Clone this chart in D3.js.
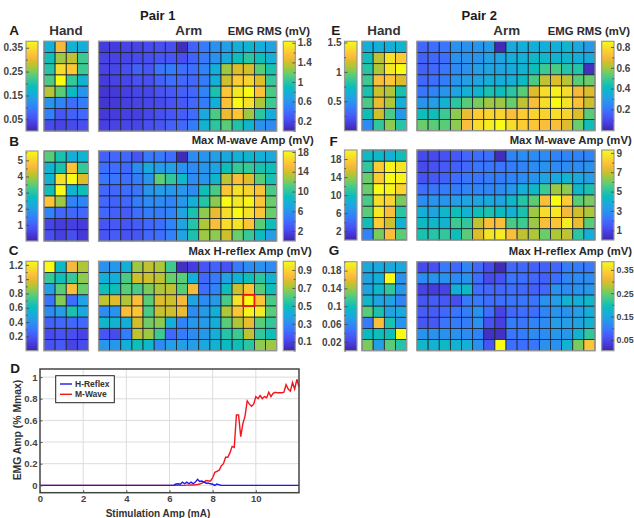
<!DOCTYPE html>
<html>
<head>
<meta charset="utf-8">
<script src="https://cdn.jsdelivr.net/npm/d3@7"></script>
<style>
  html, body { margin: 0; padding: 0; background: #fff; overflow: hidden; }
  text { font-family: "Liberation Sans", Arial, sans-serif; font-weight: bold; }
</style>
</head>
<body>
<svg id="fig" width="634" height="518"></svg>
<script>
// cell values are read as a level along the colour bar, 0 (bottom) to 100 (top)
var handA = [
  [43,82,44,42],[50,70,74,58],[54,92,87,58],[60,100,57,44],
  [73,62,48,33],[33,28,22,26],[27,15,18,20],[12,10,12,13]
];
var armA = [
  [8,8,10,10,12,13,13,3,18,25,32,36,42,45,42,38],
  [10,10,11,12,13,15,15,13,19,25,32,40,50,55,50,43],
  [10,11,13,18,15,24,26,22,22,28,42,70,78,77,62,52],
  [8,10,11,14,13,18,22,20,20,26,42,76,88,90,78,57],
  [6,7,9,11,11,14,16,18,20,28,52,86,95,100,85,60],
  [6,7,9,10,11,12,14,16,20,26,42,85,100,93,72,58],
  [7,8,9,9,11,13,15,17,21,40,60,80,86,70,55,42],
  [9,10,11,11,13,15,18,20,26,44,55,62,53,45,32,30]
];
var handB = [
  [62,52,42,44],[44,52,86,57],[44,93,100,78],[50,100,44,50],
  [86,70,28,28],[28,20,20,20],[10,8,9,8],[13,9,13,7]
];
var armB = [
  [18,20,20,15,25,25,22,2,30,33,36,40,43,45,43,40],
  [22,22,20,30,40,36,36,32,30,33,38,50,57,57,52,50],
  [24,24,22,26,33,63,56,46,30,33,45,74,84,78,62,52],
  [20,20,22,24,33,36,34,34,30,50,60,86,93,90,85,60],
  [20,19,20,26,30,30,28,34,43,54,68,100,95,98,86,64],
  [20,18,17,22,26,26,28,38,52,68,80,92,100,93,86,64],
  [15,16,15,17,20,22,28,38,54,72,84,92,94,86,62,50],
  [15,17,14,15,20,22,27,38,52,70,68,76,64,57,48,36]
];
var handC = [
  [100,47,82,72],[57,50,57,68],[36,62,84,64],[24,67,22,38],
  [30,36,52,40],[18,20,20,20],[12,14,13,10],[14,16,10,12]
];
var armC = [
  [32,34,42,70,74,72,58,4,8,15,19,14,25,30,32,30],
  [42,42,60,76,76,74,64,62,42,20,25,37,44,50,55,44],
  [50,50,62,60,66,72,74,62,82,22,28,50,76,86,62,50],
  [74,78,72,84,62,78,76,82,38,30,35,60,94,100,86,60],
  [30,33,84,86,60,75,76,80,30,35,42,72,86,98,95,62],
  [46,44,42,76,65,68,42,28,34,35,42,62,72,80,62,56],
  [15,12,26,74,70,58,20,25,30,34,42,54,58,74,56,50],
  [34,34,42,50,46,30,36,36,36,40,44,48,50,55,68,70]
];
var handE = [
  [42,42,42,45],[50,74,94,88],[54,72,95,100],[58,84,86,78],
  [52,76,72,52],[60,80,72,42],[50,76,60,34],[30,56,68,54]
];
var armE = [
  [20,22,24,32,32,33,35,2,40,42,42,42,42,45,40,35],
  [18,20,22,32,32,33,37,38,42,43,46,46,45,45,42,40],
  [18,20,24,30,32,36,38,38,40,44,50,58,60,54,54,4],
  [20,22,26,33,36,38,42,42,42,48,60,74,78,73,62,64],
  [24,28,33,38,43,45,52,50,55,62,78,92,97,92,82,78],
  [33,36,44,55,62,66,70,70,64,74,84,92,100,94,85,76],
  [50,50,58,68,80,88,90,90,84,88,90,90,92,90,78,62],
  [64,62,62,68,84,92,96,100,92,88,86,84,84,78,64,50]
];
var handF = [
  [47,46,43,50],[56,88,98,94],[64,88,100,98],[64,100,98,90],
  [60,92,90,66],[62,95,84,55],[50,88,76,44],[28,66,84,62]
];
var armF = [
  [12,12,14,16,20,22,22,3,28,30,30,30,28,28,28,28],
  [12,14,16,18,20,24,24,24,26,28,30,32,30,30,30,32],
  [14,16,18,22,24,24,26,26,28,30,33,38,40,44,40,36],
  [22,24,26,26,28,28,28,30,34,42,46,58,70,68,46,52],
  [30,33,33,36,38,38,40,38,46,54,62,84,100,88,62,66],
  [42,38,46,50,44,50,52,48,43,52,70,92,95,82,76,72],
  [48,46,44,58,56,74,84,84,60,58,70,84,86,96,80,62],
  [52,54,56,50,62,78,94,96,84,74,72,64,72,74,55,42]
];
var handG = [
  [40,40,40,40],[38,42,100,32],[38,46,56,34],[46,38,38,28],
  [62,52,38,40],[25,84,52,33],[48,50,50,100],[66,36,62,54]
];
var armG = [
  [12,14,25,20,28,20,12,2,20,20,18,18,20,26,26,25],
  [30,32,32,30,32,22,12,14,24,22,20,18,22,28,30,30],
  [10,8,10,42,46,22,20,20,22,20,18,20,32,30,32,34],
  [15,17,16,13,25,25,22,22,24,24,24,32,36,44,42,46],
  [17,17,20,24,26,32,22,10,20,22,22,28,33,32,36,42],
  [15,16,24,26,26,32,14,9,26,24,28,30,36,36,38,44],
  [32,32,32,32,30,28,4,4,24,26,30,30,34,34,44,56],
  [46,44,47,44,43,32,15,100,22,22,24,32,32,44,66,86]
];

// panel D traces
var stimAmp = [0,1,2,3,4,5,6,6.2,6.3,6.4,6.5,6.6,6.7,6.8,6.9,7,7.1,7.2,7.3,7.4,7.5,7.6,7.7,7.8,7.9,8,8.1,8.2,8.3,8.4,8.5,8.6,8.7,8.8,8.9,9,9.1,9.2,9.3,9.4,9.5,9.6,9.7,9.8,9.9,10,10.1,10.2,10.3,10.4,10.5,10.6,10.7,10.8,10.9,11,11.1,11.2,11.3,11.4,11.5,11.6,11.7,11.8,11.9,12];
var hReflex = [0,0,0,0,0,0,0,0.002,0.012,0.015,0.01,0.03,0.015,0.03,0.015,0.03,0.015,0.03,0.055,0.035,0.04,0.03,0.02,0.02,0.015,0.01,0,0.012,0.005,0,0,0,0,0,0,0,0,0,0,0,0,0,0,0,0,0,0,0,0,0,0,0,0,0,0,0,0,0,0,0,0,0,0,0,0,0];
var mWave = [0,0,0,0,0,0,0,0,0,0,0,0,0,0.002,0.002,0.003,0.003,0.005,0.008,0.012,0.02,0.03,0.045,0.04,0.04,0.07,0.12,0.13,0.14,0.18,0.2,0.26,0.26,0.3,0.36,0.35,0.65,0.65,0.45,0.57,0.64,0.78,0.75,0.73,0.75,0.82,0.8,0.83,0.8,0.82,0.81,0.86,0.82,0.85,0.86,0.855,0.855,0.855,0.86,0.93,0.89,0.87,0.95,0.89,0.98,0.91];
var stimTicks = [0,2,4,6,8,10];
var ampTicks = [0,0.2,0.4,0.6,0.8,1];

// colour bar ticks
var ticksA = { left: [0.05,0.15,0.25,0.35], right: [0.2,0.6,1,1.4,1.8] };
var ticksB = { left: [1,2,3,4,5], right: [2,6,10,14,18] };
var ticksC = { left: [0.2,0.4,0.6,0.8,1,1.2], right: [0.1,0.3,0.5,0.7,0.9] };
var ticksE = { left: [0.5,1,1.5], right: [0.2,0.4,0.6,0.8] };
var ticksF = { left: [2,6,10,14,18], right: [1,3,5,7,9] };
var ticksG = { left: [0.02,0.06,0.1,0.14,0.18], right: [0.05,0.15,0.25,0.35] };

// parula
var parulaStops = ["#3e26a8","#463cde","#4852f4","#3e6fff","#2e87f7","#23a0e5","#12b1d6","#0bbdbc","#37c897","#64cd6f","#abc739","#dcbd29","#f8ba3d","#fec934","#f5e327","#f9fb14"];
var parulaAt = [0,5,9,14,18,23,27,31,36,40,45,49,52,55,59,63];
var parula = d3.scaleLinear()
  .domain(parulaAt.map(function(d) { return d / 63; }))
  .range(parulaStops)
  .clamp(true);

var svg = d3.select("#fig");
var ink = "#333";

var defs = svg.append("defs");
var grad = defs.append("linearGradient")
  .attr("id", "parulaGrad")
  .attr("x1", 0).attr("x2", 0).attr("y1", 1).attr("y2", 0);
parulaAt.forEach(function(d, i) {
  grad.append("stop")
    .attr("offset", (d / 63 * 100) + "%")
    .attr("stop-color", parulaStops[i]);
});

var heatmap = function(rows, x0, x1, y0, y1) {
  var x = d3.scaleBand().domain(d3.range(rows[0].length)).range([x0, x1]);
  var y = d3.scaleBand().domain(d3.range(rows.length)).range([y0, y1]);
  var g = svg.append("g");
  rows.forEach(function(row, r) {
    g.selectAll("rect.r" + r)
      .data(row)
      .enter()
      .append("rect")
      .attr("class", "r" + r)
      .attr("x", function(d, i) { return x(i); })
      .attr("y", y(r))
      .attr("width", x.bandwidth())
      .attr("height", y.bandwidth())
      .attr("fill", function(d) { return parula(d / 100); })
      .attr("stroke", "#1c2430")
      .attr("stroke-width", 0.8);
  });
  // grey frame round the image
  g.append("rect")
    .attr("x", x0).attr("y", y0)
    .attr("width", x1 - x0).attr("height", y1 - y0)
    .attr("fill", "none")
    .attr("stroke", "#9a9a9a")
    .attr("stroke-width", 1.2);
  return { x: x, y: y };
};

var colorbar = function(x0, x1, y0, y1, domain, ticks, side, font) {
  svg.append("rect")
    .attr("x", x0).attr("y", y0)
    .attr("width", x1 - x0).attr("height", y1 - y0)
    .attr("fill", "url(#parulaGrad)")
    .attr("stroke", "#9a9a9a")
    .attr("stroke-width", 1.2);

  var scale = d3.scaleLinear().domain(domain).range([y1, y0]);
  var axis = side === "left" ? d3.axisLeft(scale) : d3.axisRight(scale);
  var minor = side === "left" ? d3.axisLeft(scale) : d3.axisRight(scale);
  var step = ticks.length > 1 ? ticks[1] - ticks[0] : 0;
  var mids = ticks.map(function(d) { return d - step / 2; })
    .concat(ticks.map(function(d) { return d + step / 2; }))
    .filter(function(d) { return d > domain[0] && d < domain[1] && ticks.indexOf(d) < 0; });

  var gm = svg.append("g")
    .attr("transform", "translate(" + (side === "left" ? x0 : x1) + ",0)")
    .call(minor.tickValues(mids).tickSize(-1.5).tickFormat(""));
  gm.select(".domain").remove();
  gm.selectAll("line").attr("stroke", "#555").attr("stroke-width", 0.7);

  var g = svg.append("g")
    .attr("transform", "translate(" + (side === "left" ? x0 : x1) + ",0)")
    .call(axis.tickValues(ticks).tickSize(-3).tickPadding(side === "left" ? 3 : 2.5).tickFormat(String));
  g.select(".domain").remove();
  g.selectAll("line").attr("stroke", "#444").attr("stroke-width", 0.8);
  g.selectAll("text")
    .style("font-size", (font || 10) + "px")
    .attr("fill", "#444");
};

var label = function(txt, x, y, size, anchor, fill) {
  svg.append("text")
    .attr("x", x)
    .attr("y", y)
    .attr("dy", "0.35em")
    .attr("text-anchor", anchor || "middle")
    .attr("fill", fill || ink)
    .style("font-size", size + "px")
    .text(txt);
};

var add_panel = function(p) {
  colorbar(p.barL[0], p.barL[1], p.top, p.bottom, p.domL, p.ticks.left, "left");
  heatmap(p.hand, p.handX[0], p.handX[1], p.top, p.bottom);
  var arm = heatmap(p.arm, p.armX[0], p.armX[1], p.top, p.bottom);
  colorbar(p.barR[0], p.barR[1], p.top, p.bottom, p.domR, p.ticks.right, "right", p.fontR);
  label(p.letter, p.letterX, p.letterY, 13.5, "middle", "#1a1a1a");
  label(p.title, p.titleEnd, p.titleY, 11.3, "end", "#2a2a2a");
  return arm;
};

var leftCol = { barL: [26, 38], handX: [44, 88.5], armX: [98.5, 276.7], barR: [283.3, 295.3] };
var rightCol = { barL: [344.5, 357], handX: [362, 406.7], armX: [417, 595], barR: [601.7, 614] };

var add_all = function() {
  label("Pair 1", 157.7, 15, 13, "middle", "#1a1a1a");
  label("Pair 2", 479.3, 15, 13, "middle", "#1a1a1a");
  label("Hand", 66, 30.7, 13.4);
  label("Arm", 188.7, 30.7, 13.4);
  label("Hand", 384, 30.7, 13.4);
  label("Arm", 506.7, 30.7, 13.4);

  var panels = [
    { col: leftCol, letter: "A", letterX: 14, letterY: 30.7, title: "EMG RMS (mV)", titleEnd: 310, titleY: 30.7,
      top: 41.3, bottom: 131, domL: [0.001, 0.377], domR: [0, 1.83], ticks: ticksA, hand: handA, arm: armA },
    { col: leftCol, letter: "B", letterX: 14, letterY: 141.5, title: "Max M-wave Amp (mV)", titleEnd: 313.7, titleY: 140,
      top: 151, bottom: 241, domL: [0, 5.58], domR: [0, 18.2], ticks: ticksB, hand: handB, arm: armB },
    { col: leftCol, letter: "C", letterX: 13.5, letterY: 250, title: "Max H-reflex Amp (mV)", titleEnd: 311.7, titleY: 251.5,
      top: 261.3, bottom: 350.7, domL: [0, 1.25], domR: [0, 0.997], ticks: ticksC, hand: handC, arm: armC },
    { col: rightCol, letter: "E", letterX: 335.7, letterY: 30.5, title: "EMG RMS (mV)", titleEnd: 630, titleY: 30.7,
      top: 41.3, bottom: 130.7, domL: [0, 1.52], domR: [-0.005, 0.855], ticks: ticksE, hand: handE, arm: armE },
    { col: rightCol, letter: "F", letterX: 333.5, letterY: 141, title: "Max M-wave Amp (mV)", titleEnd: 631.7, titleY: 140,
      top: 150, bottom: 240, domL: [0.07, 20], domR: [0, 9.3], ticks: ticksF, hand: handF, arm: armF },
    { col: rightCol, letter: "G", letterX: 334, letterY: 250, title: "Max H-reflex Amp (mV)", titleEnd: 632, titleY: 251,
      top: 261.7, bottom: 350.7, domL: [0, 0.2], domR: [0.004, 0.385], ticks: ticksG, hand: handG, arm: armG, fontR: 8.8 }
  ];

  panels.forEach(function(p) {
    p.barL = p.col.barL;
    p.handX = p.col.handX;
    p.armX = p.col.armX;
    p.barR = p.col.barR;
    var arm = add_panel(p);
    if (p.letter === "C") {
      // the stimulation site picked out in red
      svg.append("rect")
        .attr("x", arm.x(13))
        .attr("y", arm.y(3))
        .attr("width", arm.x.bandwidth())
        .attr("height", arm.y.bandwidth())
        .attr("fill", "none")
        .attr("stroke", "#f01414")
        .attr("stroke-width", 1.8);
    }
  });
};

var add_recruitment = function() {
  var left = 40, right = 299, top = 369, bottom = 492.7;
  var x = d3.scaleLinear().domain([0, 12]).range([left, right]);
  var y = d3.scaleLinear().domain([-0.068, 1.075]).range([bottom, top]);

  // Add grid
  svg.append("g")
    .selectAll("line")
    .data(stimTicks.slice(1))
    .enter()
    .append("line")
    .attr("x1", function(d) { return x(d); })
    .attr("x2", function(d) { return x(d); })
    .attr("y1", top).attr("y2", bottom)
    .attr("stroke", "#dcdcdc")
    .attr("stroke-width", 1);
  svg.append("g")
    .selectAll("line")
    .data(ampTicks)
    .enter()
    .append("line")
    .attr("x1", left).attr("x2", right)
    .attr("y1", function(d) { return y(d); })
    .attr("y2", function(d) { return y(d); })
    .attr("stroke", "#dcdcdc")
    .attr("stroke-width", 1);

  var line = d3.line()
    .x(function(d, i) { return x(stimAmp[i]); })
    .y(function(d) { return y(d); });

  svg.append("path")
    .attr("d", line(mWave))
    .attr("fill", "none")
    .attr("stroke", "#f5141e")
    .attr("stroke-width", 1.4);
  svg.append("path")
    .attr("d", line(hReflex))
    .attr("fill", "none")
    .attr("stroke", "#1a1af0")
    .attr("stroke-width", 1.4);

  // Add axes
  var gx = svg.append("g")
    .attr("transform", "translate(0," + bottom + ")")
    .call(d3.axisBottom(x).tickValues(stimTicks).tickSize(-2.5).tickPadding(3).tickFormat(String));
  var gy = svg.append("g")
    .attr("transform", "translate(" + left + ",0)")
    .call(d3.axisLeft(y).tickValues(ampTicks).tickSize(-2.5).tickPadding(2.5).tickFormat(String));
  [gx, gy].forEach(function(g) {
    g.select(".domain").remove();
    g.selectAll("line").attr("stroke", "#444").attr("stroke-width", 0.9);
    g.selectAll("text").style("font-size", "9.5px").attr("fill", "#444");
  });

  svg.append("rect")
    .attr("x", left).attr("y", top)
    .attr("width", right - left).attr("height", bottom - top)
    .attr("fill", "none")
    .attr("stroke", "#444")
    .attr("stroke-width", 1.5);

  // Add legend
  svg.append("rect")
    .attr("x", 55.7).attr("y", 375.7)
    .attr("width", 58.6).attr("height", 27)
    .attr("fill", "#fff")
    .attr("stroke", "#222")
    .attr("stroke-width", 1);
  [{ name: "H-Reflex", color: "#1a1af0", at: 384 }, { name: "M-Wave", color: "#f5141e", at: 394.3 }].forEach(function(d) {
    svg.append("line")
      .attr("x1", 60).attr("x2", 72)
      .attr("y1", d.at).attr("y2", d.at)
      .attr("stroke", d.color)
      .attr("stroke-width", 1.4);
    label(d.name, 75, d.at, 8.5, "start");
  });

  // Add axes labels
  label("Stimulation Amp (mA)", 158, 513, 10);
  svg.append("text")
    .attr("transform", "translate(17,430) rotate(-90)")
    .attr("dy", "0.35em")
    .attr("text-anchor", "middle")
    .attr("fill", ink)
    .style("font-size", "10.4px")
    .text("EMG Amp (% Mmax)");

  label("D", 15, 368.3, 13.5, "middle", "#1a1a1a");
};

add_all();
add_recruitment();
</script>
</body>
</html>
